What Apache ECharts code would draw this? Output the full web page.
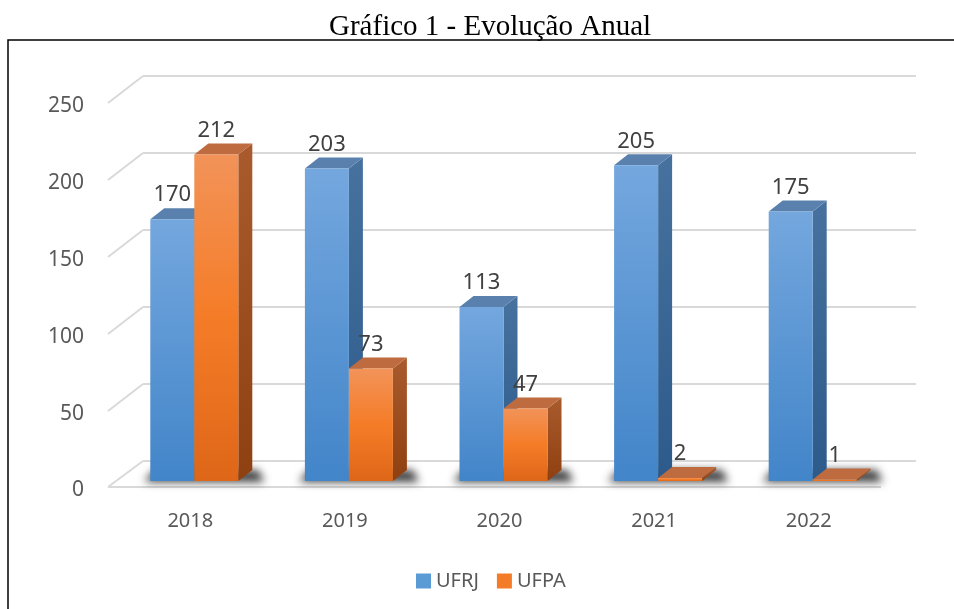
<!DOCTYPE html>
<html>
<head>
<meta charset="utf-8">
<script src="https://cdn.jsdelivr.net/npm/echarts@6/dist/echarts.min.js"></script>
<style>
  html, body { margin: 0; padding: 0; background: #fff; }
  #chart { width: 954px; height: 609px; }
</style>
</head>
<body>
<div id="chart"></div>
<script>
// dados
const categories = ['2018', '2019', '2020', '2021', '2022'];
const ufrj = [170, 203, 113, 205, 175];
const ufpa = [212, 73, 47, 2, 1];
const yTicks = [0, 50, 100, 150, 200, 250];

// deslocamentos do "3D" (pixels)
const FRONT_DX = -26, FRONT_DY = 20;   // plano das barras em relação à parede do fundo
const BAR_W = 44;
const DEPTH_X = 14, DEPTH_Y = -11;     // profundidade das barras
const WALL_DX = 35, WALL_DY = 27;      // parede lateral / piso

const cores = [
  { front: ['#74a7de', '#4285c9'], side: ['#47729f', '#2c5a8a'], top: '#5a81ad' },
  { front: ['#f29359', '#f57c27', '#de6618'], side: ['#a95b2d', '#8f4011'], top: '#bd6b3f' }
];

function grad(c) {
  let stops = c.map((col, i) => ({ offset: i / (c.length - 1), color: col }));
  return new echarts.graphic.LinearGradient(0, 0, 0, 1, stops);
}

function barra(idx) {
  return function (params, api) {
    let cat = api.value(0), val = api.value(1);
    let base = api.coord([cat, 0]);
    let topo = api.coord([cat, val]);
    let cx = base[0] + FRONT_DX;
    let xl = idx === 0 ? cx - BAR_W : cx;
    let xr = xl + BAR_W;
    let yb = base[1] + FRONT_DY;
    let yt = topo[1] + FRONT_DY;
    let c = cores[idx];
    let children = [];
    if (idx === 0) {
      // sombra no piso
      let sx = cx - BAR_W, ex = cx + BAR_W + DEPTH_X;
      let off = 3000;
      children.push({
        type: 'polygon',
        shape: { points: [[sx - 6 - off, yb + 1], [ex + 12 - off, yb + 1], [ex + 6 - off, yb - 11], [sx + 4 - off, yb - 11]] },
        style: { fill: '#000', shadowBlur: 9, shadowColor: 'rgba(0,0,0,0.75)', shadowOffsetX: off }
      });
    }
    children.push({
      type: 'polygon',
      shape: { points: [[xr, yt], [xr, yb], [xr + DEPTH_X, yb + DEPTH_Y], [xr + DEPTH_X, yt + DEPTH_Y]] },
      style: { fill: grad(c.side) }
    });
    children.push({
      type: 'polygon',
      shape: { points: [[xl, yt], [xr, yt], [xr + DEPTH_X, yt + DEPTH_Y], [xl + DEPTH_X, yt + DEPTH_Y]] },
      style: { fill: c.top }
    });
    children.push({
      type: 'rect',
      shape: { x: xl, y: yt, width: BAR_W, height: yb - yt },
      style: { fill: grad(c.front) }
    });
    children.push({
      type: 'text',
      x: (xl + xr) / 2, y: yt + DEPTH_Y - 2,
      style: {
        text: String(val), fontSize: 22, fontFamily: 'Noto Sans', fill: '#404040',
        align: 'center', verticalAlign: 'bottom'
      }
    });
    return { type: 'group', children: children };
  };
}

// parede lateral, piso da frente e rótulos do eixo y
function moldura(params, api) {
  let v = api.value(1);
  let p = api.coord([0, v]);
  let x0 = params.coordSys.x;
  let dy = v === 0 ? WALL_DY - 1 : WALL_DY;
  let children = [{
    type: 'line',
    shape: { x1: x0 - WALL_DX, y1: p[1] + dy, x2: x0, y2: p[1] },
    style: { stroke: '#d9d9d9', lineWidth: 2 }
  }, {
    type: 'text',
    x: x0 - WALL_DX - 24, y: p[1] + dy + 3,
    style: {
      text: String(v), fontSize: 21, fontFamily: 'Noto Sans', fill: '#595959',
      align: 'right', verticalAlign: 'middle'
    }
  }];
  if (v === 0) {
    children.push({
      type: 'line',
      shape: { x1: x0 - WALL_DX, y1: p[1] + dy, x2: x0 - WALL_DX + params.coordSys.width, y2: p[1] + dy },
      style: { stroke: '#d9d9d9', lineWidth: 2 }
    });
  }
  return { type: 'group', children: children };
}

let chart = echarts.init(document.getElementById('chart'));
chart.setOption({
  animation: false,
  title: {
    text: 'Gráfico 1 - Evolução Anual',
    left: 324, top: 8,
    textStyle: { fontFamily: 'Liberation Serif', fontSize: 29, fontWeight: 'normal', color: '#000' }
  },
  graphic: [{
    type: 'rect',
    shape: { x: 8, y: 40, width: 1000, height: 620 },
    style: { fill: 'none', stroke: '#000', lineWidth: 1.5 },
    z: -1
  }],
  legend: {
    left: 411, top: 566,
    icon: 'rect', itemWidth: 15, itemHeight: 15, itemGap: 18,
    textStyle: { fontFamily: 'Noto Sans', fontSize: 20, color: '#595959' },
    data: ['UFRJ', 'UFPA']
  },
  grid: { left: 143, right: 38, top: 76, bottom: 148 },
  xAxis: {
    type: 'category',
    data: categories,
    axisLine: { show: false },
    axisTick: { show: false },
    axisLabel: {
      margin: 50, padding: [0, 60, 0, 0],
      fontFamily: 'Noto Sans', fontSize: 20, color: '#595959'
    }
  },
  yAxis: {
    type: 'value',
    min: 0, max: 250, interval: 50,
    axisLine: { show: false },
    axisTick: { show: false },
    axisLabel: { show: false },
    splitLine: { lineStyle: { color: '#d9d9d9', width: 2 } }
  },
  series: [
    {
      type: 'custom', name: 'moldura', renderItem: moldura, clip: false, silent: true,
      data: yTicks.map(v => [0, v]), z: 1
    },
    {
      type: 'custom', name: 'UFRJ', renderItem: barra(0), clip: false, z: 2,
      itemStyle: { color: '#5b9bd5' },
      data: ufrj.map((v, i) => [i, v])
    },
    {
      type: 'custom', name: 'UFPA', renderItem: barra(1), clip: false, z: 3,
      itemStyle: { color: '#f47b27' },
      data: ufpa.map((v, i) => [i, v])
    }
  ]
});
</script>
</body>
</html>
